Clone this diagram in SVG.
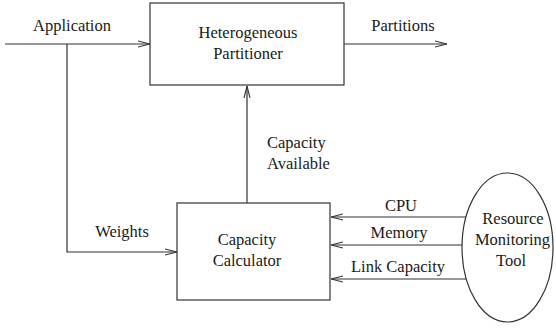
<svg xmlns="http://www.w3.org/2000/svg" width="556" height="328" viewBox="0 0 556 328">
<defs>
<marker id="ah" viewBox="0 0 12 8" refX="12" refY="4" markerWidth="12" markerHeight="8" markerUnits="userSpaceOnUse" orient="auto">
<path d="M0,1 L12,4 L0,7" fill="none" stroke="#333" stroke-width="1.1"/>
</marker>
</defs>
<rect width="556" height="328" fill="#fff"/>
<g id="connectors" fill="none" stroke="#333" stroke-width="1.2">
<line x1="5" y1="44" x2="150" y2="44" marker-end="url(#ah)"/>
<line x1="344" y1="44" x2="447" y2="44" marker-end="url(#ah)"/>
<polyline points="67,44 67,252 177,252" marker-end="url(#ah)"/>
<line x1="247" y1="203" x2="247" y2="86" marker-end="url(#ah)"/>
<line x1="468" y1="217" x2="331" y2="217" marker-end="url(#ah)"/>
<line x1="463" y1="245" x2="331" y2="245" marker-end="url(#ah)"/>
<line x1="468" y1="279" x2="331" y2="279" marker-end="url(#ah)"/>
</g>
<g id="labels" fill="#1a1a1a" stroke="none" text-anchor="middle">
<text font-family="Times New Roman" font-size="16.5" x="72" y="31">Application</text>
<text font-family="Times New Roman" font-size="16.5" x="403" y="31">Partitions</text>
<text font-family="Times New Roman" font-size="16.5" x="122" y="237">Weights</text>
<text font-family="Times New Roman" font-size="16.5" x="267" y="148" text-anchor="start">Capacity</text>
<text font-family="Times New Roman" font-size="16.5" x="267" y="169" text-anchor="start">Available</text>
<text font-family="Times New Roman" font-size="16.5" x="401" y="211">CPU</text>
<text font-family="Times New Roman" font-size="16.5" x="399" y="238">Memory</text>
<text font-family="Times New Roman" font-size="16.5" x="398" y="272">Link Capacity</text>
</g>
<g id="partitioner" text-anchor="middle">
<rect x="150" y="3" width="194" height="82" fill="#fff" stroke="#333" stroke-width="1.2"/>
<text font-family="Times New Roman" font-size="16.5" fill="#1a1a1a" x="248" y="38">Heterogeneous</text>
<text font-family="Times New Roman" font-size="16.5" fill="#1a1a1a" x="248" y="58.5">Partitioner</text>
</g>
<g id="calculator" text-anchor="middle">
<rect x="177" y="203" width="153" height="97" fill="#fff" stroke="#333" stroke-width="1.2"/>
<text font-family="Times New Roman" font-size="16.5" fill="#1a1a1a" x="247" y="245">Capacity</text>
<text font-family="Times New Roman" font-size="16.5" fill="#1a1a1a" x="247" y="265.5">Calculator</text>
</g>
<g id="monitor" text-anchor="middle">
<ellipse cx="507.5" cy="247.5" rx="45.5" ry="74.5" fill="#fff" stroke="#333" stroke-width="1.2"/>
<text font-family="Times New Roman" font-size="16.5" fill="#1a1a1a" x="513" y="224">Resource</text>
<text font-family="Times New Roman" font-size="16.5" fill="#1a1a1a" x="512.5" y="245">Monitoring</text>
<text font-family="Times New Roman" font-size="16.5" fill="#1a1a1a" x="511" y="265.5">Tool</text>
</g>
</svg>
